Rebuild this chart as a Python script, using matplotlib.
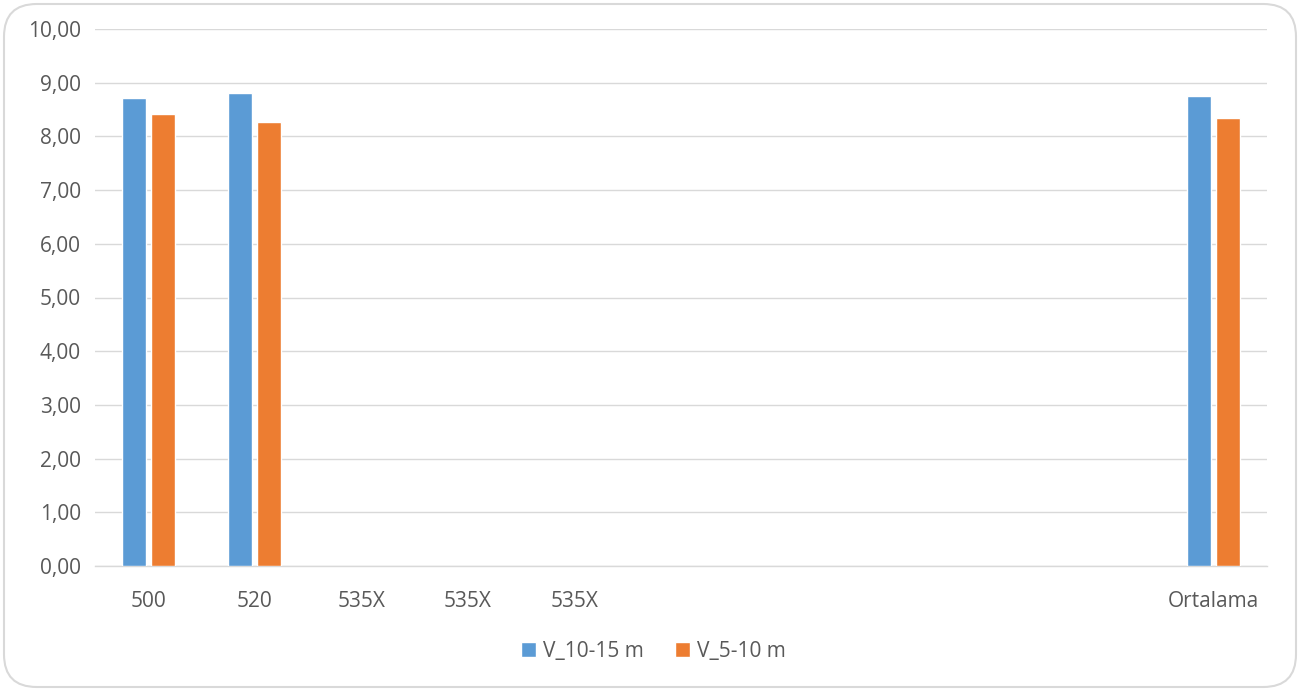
import matplotlib
matplotlib.use("Agg")
import matplotlib.pyplot as plt
from matplotlib.patches import FancyBboxPatch, Patch
import numpy as np

categories = ["500", "520", "535X", "535X", "535X", "", "", "", "", "", "Ortalama"]
v_10_15 = [8.72, 8.80, None, None, None, None, None, None, None, None, 8.76]
v_5_10 = [8.42, 8.27, None, None, None, None, None, None, None, None, 8.34]
series_names = ["V_10-15 m", "V_5-10 m"]
colors = ["#5B9BD5", "#ED7D31"]
yticks = [0, 1, 2, 3, 4, 5, 6, 7, 8, 9, 10]

plt.rcParams['font.family'] = ['Open Sans', 'DejaVu Sans']

fig = plt.figure(figsize=(13.07, 6.90), dpi=100)
ax = fig.add_axes([95/1307, 1-566/690, (1267-95)/1307, (566-29)/690])

x = np.arange(len(categories))
w = 0.225
off_step = 0.27
for i, (vals, col) in enumerate(zip([v_10_15, v_5_10], colors)):
    off = (i - 0.5) * off_step
    xs = [xi + off for xi, v in zip(x, vals) if v is not None]
    hs = [v for v in vals if v is not None]
    ax.bar(xs, hs, width=w, color=col, edgecolor="white", linewidth=1.0, zorder=3)

ax.set_xlim(-0.5, len(categories) - 0.5)
ax.set_ylim(0, 10)
ax.set_yticks(yticks)
ax.set_yticklabels([f"{t:.2f}".replace(".", ",") for t in yticks])
ax.set_xticks(x)
ax.set_xticklabels(categories)
ax.tick_params(axis='both', length=0, labelsize=15, colors="#595959")
ax.tick_params(axis='y', pad=10)
ax.tick_params(axis='x', pad=18)
ax.grid(axis='y', color="#d9d9d9", linewidth=1, zorder=0)
for s in ["top", "right", "left"]:
    ax.spines[s].set_visible(False)
ax.spines["bottom"].set_color("#d9d9d9")
ax.spines["bottom"].set_linewidth(1)

handles = [Patch(facecolor=c, edgecolor="white") for c in colors]
fig.legend(handles, series_names, loc="center", bbox_to_anchor=(0.5, 1-651/690),
           ncol=2, frameon=False, fontsize=15, labelcolor="#595959",
           handlelength=0.7, handleheight=0.7, handletextpad=0.35, columnspacing=1.5)

border = FancyBboxPatch((4/1307, 3/690), (1296-4)/1307, (686-3)/690,
                        boxstyle="round,pad=0,rounding_size=0.025",
                        transform=fig.transFigure, facecolor="none",
                        edgecolor="#d9d9d9", linewidth=1.5, mutation_aspect=1307/690)
fig.patches.append(border)

fig.savefig("out.png", dpi=100, facecolor="white")
